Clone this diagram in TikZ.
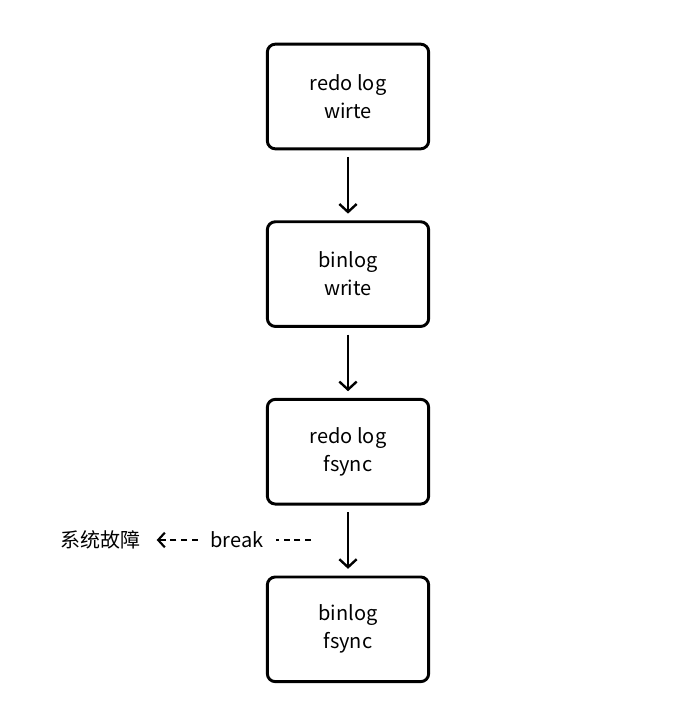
\documentclass[tikz,border=0pt]{standalone}
\usepackage{fontspec}
\setmainfont{Noto Sans CJK SC}
\usetikzlibrary{arrows.meta,positioning}

\tikzset{
  stepbox/.style={draw, line width=2.2pt, rounded corners=6pt, minimum width=121pt, minimum height=78.5pt, align=center, font=\fontsize{15}{21}\selectfont},
  flow/.style={line width=1.8pt, -{Straight Barb[length=6pt,width=13pt,line width=1.8pt]}, shorten <=5pt, shorten >=5pt},
  cutline/.style={line width=1.6pt, dash pattern=on 4.5pt off 3.5pt},
  lbl/.style={font=\fontsize{15}{18}\selectfont}
}

\begin{document}
\begin{tikzpicture}[x=0.75pt,y=-0.75pt]
\useasboundingbox (0,0) rectangle (689,709);

% Etapes
\node[stepbox] (rw) at (348,96.5) {redo log\\wirte};
\node[stepbox, below=52.5pt of rw] (bw) {binlog\\write};
\node[stepbox, below=52.5pt of bw] (rf) {redo log\\fsync};
\node[stepbox, below=52.5pt of rf] (bf) {binlog\\fsync};

\draw[flow] (rw) -- (bw);
\draw[flow] (bw) -- (rf);
\draw[flow] (rf) -- (bf);

% Coupure
\node[lbl] (brk) at (237,540) {break};
\node[lbl] (fault) at (100,540) {系统故障};
\coordinate (cut) at (311,540);
\draw[cutline, shorten >=6pt] (cut) -- (brk.east);
\draw[cutline, shorten <=6pt, shorten >=9pt, -{Straight Barb[length=5pt,width=11pt,line width=1.6pt]}] (brk.west) -- (fault.east);
\end{tikzpicture}
\end{document}
